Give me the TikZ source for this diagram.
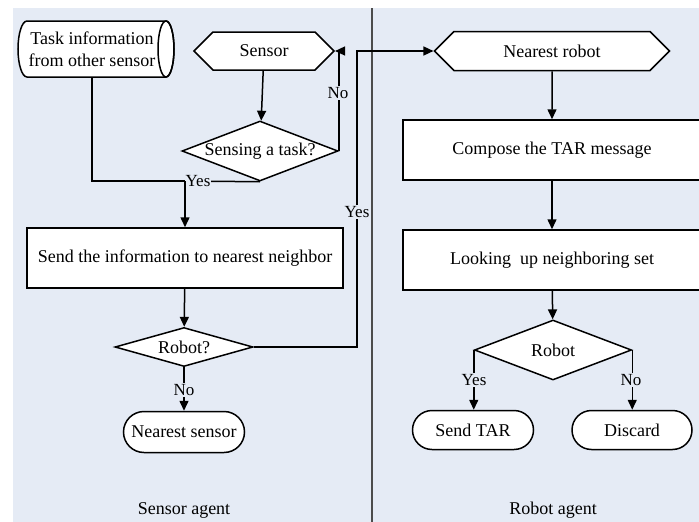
\documentclass[tikz,border=0pt]{standalone}
\usepackage{fontspec}
\setmainfont{Liberation Serif}
\usetikzlibrary{shapes.geometric,shapes.symbols,shapes.misc,arrows.meta}
\definecolor{panel}{HTML}{E5EBF5}
\tikzset{
  flow/.style={draw=black, line width=1.5pt, fill=white, inner sep=0pt,
    font=\fontsize{18}{22}\selectfont, align=center},
  hexa/.style={flow, signal, signal to=east and west, signal pointer angle=90},
  procbox/.style={flow, rectangle},
  decision/.style={flow, diamond, label={[font=\fontsize{18}{22}\selectfont]center:#1}},
  terminal/.style={flow, rounded rectangle},
  link/.style={line width=1.5pt, draw=black},
  arrowlink/.style={link, -{Triangle[length=10pt,width=9pt]}},
  tag/.style={fill=panel, inner sep=1pt, font=\fontsize{17}{19}\selectfont},
  lanename/.style={font=\fontsize{18}{22}\selectfont}
}
\begin{document}
\begin{tikzpicture}[x=1pt,y=-1pt]
  % canvas and the two swim lanes
  \path[fill=white] (0,0) rectangle (699,522);
  \useasboundingbox (0,0) rectangle (699,522);
  \fill[panel] (13,8) rectangle (699,522);
  \draw[line width=1.5pt, draw=black!70] (372,8) -- (372,522);

  \begin{scope}
  \clip (0,0) rectangle (699,522);
  % sensor lane: stored task information drawn as a lying cylinder
  \filldraw[fill=white, line width=1.5pt]
    (166,21) -- (27,21) arc[start angle=-90, end angle=-270, x radius=9, y radius=28]
    -- (166,77) arc[start angle=90, end angle=-90, x radius=8, y radius=28] -- cycle;
  \draw[line width=1.5pt] (166,49) ellipse[x radius=8, y radius=28];
  \node[font=\fontsize{18}{22}\selectfont, align=center, inner sep=0pt,
        minimum width=156pt, minimum height=56pt] (taskinfo) at (92,49)
    {Task information\\from other sensor};
  \node[hexa, minimum width=140pt, minimum height=38pt] (sensor) at (264,51) {Sensor};
  \node[decision=Sensing a task?, minimum width=156pt, minimum height=60pt] (sensing) at (260,151) {};
  \node[procbox, minimum width=316pt, minimum height=60pt] (sendinfo) at (185,258)
    {Send the information to nearest neighbor};
  \node[decision=Robot?, minimum width=138pt, minimum height=39pt] (isrobot) at (184,347) {};
  \node[terminal, minimum width=121pt, minimum height=41pt] (nsensor) at (184,432) {Nearest sensor};
  \node[lanename] (sensorlane) at (184,510) {Sensor agent};

  % robot lane
  \node[hexa, minimum width=235pt, minimum height=39pt] (nrobot) at (552,51) {Nearest robot};
  \node[procbox, minimum width=298pt, minimum height=60pt] (compose) at (552,150) {Compose the TAR message};
  \node[procbox, minimum width=298pt, minimum height=60pt] (lookup) at (552,260) {Looking\ \ up neighboring set};
  \node[decision=Robot, minimum width=157pt, minimum height=60pt] (robotq) at (553,350) {};
  \node[terminal, minimum width=121pt, minimum height=39pt] (sendtar) at (473,430) {Send TAR};
  \node[terminal, minimum width=120pt, minimum height=39pt] (discard) at (632,430) {Discard};
  \node[lanename] (robotlane) at (553,510) {Robot agent};

  % junction points of the sensor-lane connectors
  \coordinate (join) at (185,181);
  \coordinate (yesturn) at (357,51);

  % sensor lane connectors
  \draw[arrowlink] (sensor) -- (sensing);
  \draw[arrowlink] (sensing.east) -- (sensing.east |- sensor.east) -- (sensor.east);
  \node[tag] (nolabel1) at (338,93) {No};
  \draw[link] (taskinfo.south) |- (join);
  \draw[link] (sensing.south) -- (join);
  \node[tag] (yeslabel1) at (198,181) {Yes};
  \draw[arrowlink] (join) -- (sendinfo.north);
  \draw[arrowlink] (sendinfo) -- (isrobot);
  \draw[arrowlink] (isrobot.east) -| (yesturn) -- (nrobot.west);
  \node[tag] (yeslabel2) at (357,212) {Yes};
  \draw[arrowlink] (isrobot.south) -- (nsensor.north);
  \node[tag] (nolabel2) at (184,390) {No};

  % robot lane connectors
  \draw[arrowlink] (nrobot) -- (compose);
  \draw[arrowlink] (compose) -- (lookup);
  \draw[arrowlink] (lookup) -- (robotq);
  \draw[arrowlink] (robotq.west) -- (robotq.west |- sendtar.north);
  \node[tag] (yeslabel3) at (474,380) {Yes};
  \draw[arrowlink] (robotq.east) -- (robotq.east |- discard.north);
  \node[tag] (nolabel3) at (631,380) {No};
  \end{scope}
\end{tikzpicture}
\end{document}
